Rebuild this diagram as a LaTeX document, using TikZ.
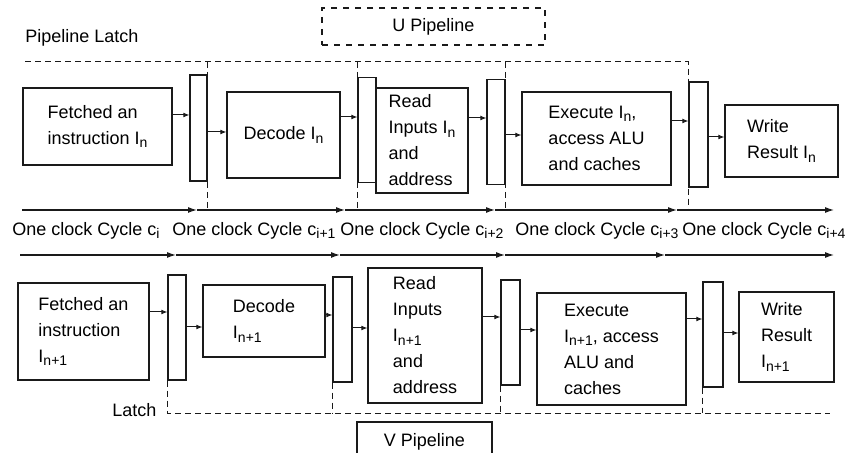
\documentclass[tikz,border=0pt]{standalone}
\usepackage{fontspec}
\setmainfont{Liberation Sans}
\usetikzlibrary{arrows.meta,positioning}
\definecolor{ink}{HTML}{1A1A1A}
\newcommand{\sub}[1]{\raisebox{-0.35ex}{\fontsize{7}{7}\selectfont#1}}

\begin{document}
\begin{tikzpicture}[x=0.5pt,y=-0.5pt,
  stage/.style={draw=ink,line width=0.6pt,align=left,inner sep=0pt,font=\fontsize{9}{13}\selectfont},
  latch/.style={draw=ink,line width=0.6pt,inner sep=0pt,minimum width=9pt,minimum height=52.5pt},
  pipe/.style={draw=ink,line width=0.6pt,inner sep=0pt,font=\fontsize{9}{11}\selectfont},
  bound/.style={draw=ink,line width=0.5pt,dash pattern=on 3pt off 2pt},
  arr/.style={-{Latex[length=3pt,width=2.4pt]},draw=ink,line width=0.5pt},
  clk/.style={-{Latex[length=4.5pt,width=3pt]},draw=ink,line width=0.6pt},
  lbl/.style={font=\fontsize{9}{11}\selectfont,inner sep=0pt,anchor=west}]
\useasboundingbox (0,0) rectangle (849,453);
% U pipeline
\node[pipe,dashed,minimum width=111.5pt,minimum height=18.5pt] (upipe) at (433.5,26.5) {U Pipeline};
\node[lbl] (ulatch) at (25,38) {Pipeline Latch};
\node[stage,minimum width=74.5pt,minimum height=38.5pt] (fetchU) at (97.5,126.5) {Fetched an\\instruction I\sub{n}};
\node[latch,minimum width=8.5pt,minimum height=53pt] (latU1) at (198.5,128) {};
\node[stage,minimum width=56.5pt,minimum height=43pt] (decU) at (283.5,135) {Decode I\sub{n}};
\node[latch] (latU2) at (367,130) {};
\node[stage,minimum width=46pt,minimum height=52.5pt] (readU) at (422,140.5) {Read\\Inputs I\sub{n}\\and\\address};
\node[latch] (latU3) at (496,132) {};
\node[stage,minimum width=74.5pt,minimum height=46.5pt] (exeU) at (596.5,138.5) {Execute I\sub{n},\\access ALU\\and caches};
\node[latch,minimum width=9.5pt] (latU4) at (698.5,134.5) {};
\node[stage,minimum width=56.5pt,minimum height=36pt] (wrU) at (781.5,141) {Write\\Result I\sub{n}};
\draw[arr] (fetchU.east |- 0,115)--(latU1.west |- 0,115); \draw[arr] (latU1.east |- 0,132)--(decU.west |- 0,132);
\draw[arr] (decU.east |- 0,117)--(latU2.west |- 0,117); \draw[arr] (readU.east |- 0,118)--(latU3.west |- 0,118);
\draw[arr] (latU3.east |- 0,135)--(exeU.west |- 0,135); \draw[arr] (exeU.east |- 0,121)--(latU4.west |- 0,121);
\draw[arr] (latU4.east |- 0,137)--(wrU.west |- 0,137);
% clock lines
\coordinate (k0) at (22,210); \coordinate (k1) at (197,210); \coordinate (k2) at (345,210);
\coordinate (k3) at (495,210); \coordinate (k4) at (677,210); \coordinate (k5) at (834,210);
\coordinate (m0) at (20,255); \coordinate (m1) at (176,255); \coordinate (m2) at (340,255);
\coordinate (m3) at (505,255); \coordinate (m4) at (665,255); \coordinate (m5) at (834,255);
\draw[clk] (k0)--(k1); \draw[clk] (k1)--(k2); \draw[clk] (k2)--(k3); \draw[clk] (k3)--(k4); \draw[clk] (k4)--(k5);
\draw[clk] (m0)--(m1); \draw[clk] (m1)--(m2); \draw[clk] (m2)--(m3); \draw[clk] (m3)--(m4); \draw[clk] (m4)--(m5);
\node[lbl] (cyc0) at (12,231) {One clock Cycle c\sub{i}};
\node[lbl] (cyc1) at (172,231) {One clock Cycle c\sub{i+1}};
\node[lbl] (cyc2) at (340,231) {One clock Cycle c\sub{i+2}};
\node[lbl] (cyc3) at (515,231) {One clock Cycle c\sub{i+3}};
\node[lbl] (cyc4) at (682,231) {One clock Cycle c\sub{i+4}};
% U latch boundary
\coordinate (ut) at (25,62);
\draw[bound] (ut)--(latU4.west |- ut)--(latU4.west |- k0);
\draw[bound] (latU1.east |- ut)--(latU1.east |- k0);
\draw[bound] (latU2.west |- ut)--(latU2.west |- k0);
\draw[bound] (latU3.east |- ut)--(latU3.east |- k0);
% V pipeline
\node[stage,minimum width=65.5pt,minimum height=48.5pt] (fetchV) at (83.5,331.5) {Fetched an\\instruction\\I\sub{n+1}};
\node[latch] (latV1) at (177,327.5) {};
\node[stage,minimum width=61pt,minimum height=36pt] (decV) at (264,321) {Decode\\I\sub{n+1}};
\node[latch,minimum width=9.5pt] (latV2) at (342.5,329.5) {};
\node[stage,minimum width=57pt,minimum height=67.5pt] (readV) at (425,335.5) {Read\\Inputs\\I\sub{n+1}\\and\\address};
\node[latch,minimum width=9.5pt] (latV3) at (510.5,332.5) {};
\node[stage,minimum width=74.5pt,minimum height=56pt] (exeV) at (611.5,349) {Execute\\I\sub{n+1}, access\\ALU and\\caches};
\node[latch,minimum width=10pt] (latV4) at (713,334.5) {};
\node[stage,minimum width=47.5pt,minimum height=45pt] (wrV) at (786.5,337) {Write\\Result\\I\sub{n+1}};
\draw[arr] (fetchV.east |- 0,312)--(latV1.west |- 0,312); \draw[arr] (latV1.east |- 0,327)--(decV.west |- 0,327);
\draw[arr] (decV.east |- 0,315)--(latV2.west |- 0,315); \draw[arr] (latV2.east |- 0,328)--(readV.west |- 0,328);
\draw[arr] (readV.east |- 0,317)--(latV3.west |- 0,317); \draw[arr] (latV3.east |- 0,330)--(exeV.west |- 0,330);
\draw[arr] (exeV.east |- 0,319)--(latV4.west |- 0,319); \draw[arr] (latV4.east |- 0,333)--(wrV.west |- 0,333);
% V latch boundary
\coordinate (vb) at (830,413);
\draw[bound] (latV1.south west)|-(vb);
\draw[bound] (latV2.south west)--(latV2.south west |- vb);
\draw[bound] (latV3.south west)--(latV3.south west |- vb);
\draw[bound] (latV4.south west)--(latV4.south west |- vb);
\node[lbl] (vlatch) at (112,410) {Latch};
\node[pipe,minimum width=67.5pt,minimum height=20pt] (vpipe) at (424.5,442) {V Pipeline};
\end{tikzpicture}
\end{document}
